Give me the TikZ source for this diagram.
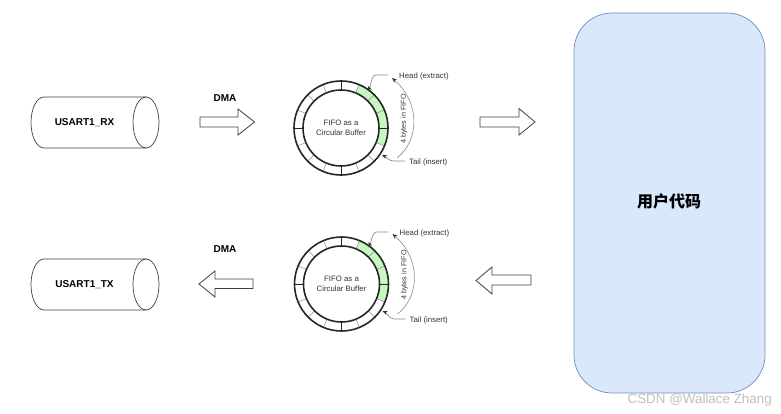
\documentclass[tikz,border=0pt]{standalone}
\usepackage{fontspec}
\setmainfont{Liberation Sans}
\newfontfamily\cjk{Noto Sans CJK SC}
\usetikzlibrary{arrows.meta}
\definecolor{fifogreen}{HTML}{C6F7C0}
\definecolor{bluefill}{HTML}{DAE8FC}
\definecolor{blueline}{HTML}{6C8EBF}
\definecolor{ringgray}{HTML}{8A8A8A}
\tikzset{
  x=1pt,y=-1pt,
  lbl/.style={font=\bfseries\fontsize{10}{12}\selectfont,inner sep=0pt,text=black},
  small/.style={font=\fontsize{7.8}{10.4}\selectfont,inner sep=0pt,text=black!80,align=center},
  arrowshape/.style={draw=black!75,fill=white,line width=0.8pt,line join=miter},
  callout/.style={draw=ringgray,line width=0.7pt,-{Stealth[length=5pt,width=4pt,color=black!80]}},
}
% #1 name, #2 x, #3 y, #4 head y, #5 tail y
\newcommand{\fiforing}[5]{%
  \begin{scope}[shift={(#2,#3)}]
    \fill[fifogreen] (-67.5:47) arc[start angle=-67.5,end angle=22.5,radius=47]
      -- (22.5:38) arc[start angle=22.5,end angle=-67.5,radius=38] -- cycle;
    \foreach \a in {22.5,45,67.5,112.5,135,157.5,202.5,225,247.5,292.5,315,337.5}
      \draw[ringgray,line width=0.5pt] (\a:38) -- (\a:47);
    \foreach \a in {0,90,180,270}
      \draw[black!85,line width=0.8pt] (\a:38) -- (\a:47);
    \draw[black!85,line width=1.6pt] (0,0) circle[radius=47];
    \draw[black!85,line width=1.6pt] (0,0) circle[radius=38];
    \node[small] (#1c) at (0,0) {FIFO as a\\Circular Buffer};
    \node[small,anchor=west] (#1h) at (58,#4+1) {Head (extract)};
    \node[small,anchor=west] (#1t) at (68,#5+1) {Tail (insert)};
    \coordinate (#1a) at (27,-42);
    \coordinate (#1b) at (41,27);
    \coordinate (#1e) at (47,#4);
    \coordinate (#1f) at (64,#5);
    \draw[callout] (#1e) -- (35,#4) to[out=180,in=-65] (#1a);
    \draw[callout] (#1f) -- (53,#5) to[out=180,in=-25] (#1b);
    \coordinate (#1p) at (51,-50);
    \coordinate (#1q) at (56,30);
    \draw[ringgray,line width=0.6pt,-{Stealth[length=5pt,width=4pt,color=black!80]}] (#1q) .. controls (79,12) and (79,-26) .. (#1p);
    \node[small,rotate=90,font=\fontsize{7.2}{8.6}\selectfont] (#1l) at (63,-9) {4 bytes in FIFO};
  \end{scope}}
\begin{document}
\begin{tikzpicture}
\useasboundingbox (0,0) rectangle (781,414);
% big rectangle
\node[draw=blueline,fill=bluefill,line width=0.7pt,rounded corners=38pt,minimum width=191pt,minimum height=380pt,inner sep=0pt] (user) at (669.5,203) {};
\node[inner sep=0pt,font=\cjk\bfseries\fontsize{16}{18}\selectfont] (usertxt) at (669,201) {用户代码};
% cylinders
\foreach \n/\y/\t in {rx/122.5/USART1\_RX,tx/284.5/USART1\_TX}{
  \draw[black!75,line width=0.7pt] (146,\y-25.5) -- (44,\y-25.5) arc[start angle=270,end angle=90,x radius=13,y radius=25.5] -- (146,\y+25.5);
  \draw[black!75,line width=0.7pt] (146,\y) ellipse[x radius=13,y radius=25.5];
  \node[lbl] (\n) at (84.5,\y) {\t};
}
% arrows
\draw[arrowshape] (200,117) -- (238,117) -- (238,109) -- (254.5,122) -- (238,135) -- (238,127) -- (200,127) -- cycle;
\draw[arrowshape] (253,279) -- (215,279) -- (215,271) -- (199,284) -- (215,297) -- (215,288.5) -- (253,288.5) -- cycle;
\draw[arrowshape] (480,117) -- (519,117) -- (519,108.5) -- (535,122) -- (519,135) -- (519,127) -- (480,127) -- cycle;
\draw[arrowshape] (531,275) -- (492,275) -- (492,267) -- (476,280.5) -- (492,294) -- (492,285) -- (531,285) -- cycle;
\node[lbl] (dma1) at (225,98) {DMA};
\node[lbl] (dma2) at (225,249) {DMA};
\fiforing{a}{341}{128}{-53}{33}
\fiforing{b}{341.5}{284}{-52}{35}
\node[font=\fontsize{13.4}{15}\selectfont,text=black!25,inner sep=0pt,anchor=east] (wm) at (772,400) {CSDN @Wallace Zhang};
\end{tikzpicture}
\end{document}
